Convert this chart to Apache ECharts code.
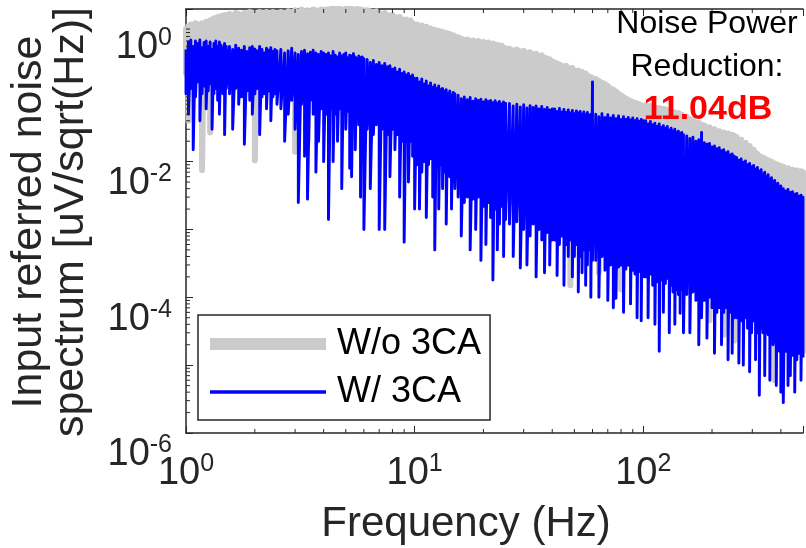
<!DOCTYPE html>
<html><head><meta charset="utf-8">
<script src="https://cdn.jsdelivr.net/npm/echarts@6/dist/echarts.min.js"></script>
<style>html,body{margin:0;padding:0;background:#fff}#c{width:806px;height:548px}</style>
</head><body><div id="c"></div>
<script>
// ---- data: per frequency bin, the top and bottom of the plotted trace ----
const freqHz = [
 1.000,1.025,1.050,1.075,1.100,1.125,1.150,1.175,1.200,1.225,1.250,1.275,1.300,1.325,1.350,1.375,1.400,1.425,1.450,1.475,1.500,
 1.55,1.60,1.65,1.70,1.75,1.80,1.85,1.90,1.95,2.00,2.05,2.10,2.15,2.20,2.25,2.30,2.35,2.40,2.45,2.50,
 2.6,2.7,2.8,2.9,3.0,3.1,3.2,3.3,3.4,3.5,3.6,3.7,3.8,3.9,4.0,
 4.1,4.2,4.3,4.4,4.5,4.6,4.7,4.8,4.9,5.0,5.1,5.2,5.3,5.4,5.5,5.6,5.7,5.8,5.9,6.0,
 6.2,6.4,6.6,6.8,7.0,7.2,7.4,7.6,7.8,8.0,8.2,8.4,8.6,8.8,9.0,9.2,9.4,9.6,9.8,10.0,
 10.25,10.5,10.75,11,11.25,11.5,11.75,12,12.25,12.5,12.75,13,13.25,13.5,13.75,14,14.25,14.5,14.75,15,
 15.5,16,16.5,17,17.5,18,18.5,19,19.5,20,20.5,21,21.5,22,22.5,23,23.5,24,24.5,25,
 26,27,28,29,30,31,32,33,34,35,36,37,38,39,40,
 41,42,43,44,45,46,47,48,49,50,51,52,53,54,55,56,57,58,59,60,
 62,64,66,68,70,72,74,76,78,80,82,84,86,88,90,92,94,96,98,100,
 102.5,105,107.5,110,112.5,115,117.5,120,122.5,125,127.5,130,132.5,135,137.5,140,142.5,145,147.5,150,
 155,160,165,170,175,180,185,190,195,200,205,210,215,220,225,230,235,240,245,250,
 256,262,268,274,280,286,292,298,304,310,316,322,328,334,340,346,352,358,364,370,376,382,388,394,400,
 410,420,430,440,450,460,470,480,490,500
];
// W/o 3CA (grey): top and bottom of the trace in each bin, uV/sqrt(Hz)
const without3caHi = [
 0.9,1.0,1.05,1.0,1.1,1.05,1.0,1.1,1.05,1.15,1.1,1.2,1.25,1.3,1.2,1.35,1.3,1.4,1.35,1.45,1.4,
 1.5,1.45,1.55,1.5,1.4,1.55,1.5,1.6,1.45,1.55,1.5,1.6,1.55,1.5,1.6,1.45,1.55,1.6,1.5,1.55,
 1.6,1.55,1.65,1.6,1.7,1.6,1.75,1.65,1.7,1.6,1.75,1.7,1.65,1.75,1.7,
 1.75,1.7,1.8,1.75,1.85,1.7,1.8,1.75,1.7,1.8,1.75,1.85,1.8,1.7,1.75,1.8,1.7,1.75,1.65,1.7,
 1.7,1.65,1.6,1.65,1.55,1.5,1.55,1.45,1.4,1.45,1.35,1.3,1.35,1.25,1.2,1.25,1.15,1.2,1.1,1.05,
 1.05,1.0,1.02,0.95,0.97,0.9,0.92,0.86,0.88,0.83,0.85,0.8,0.82,0.78,0.79,0.75,0.76,0.72,0.73,0.7,
 0.68,0.65,0.62,0.63,0.6,0.61,0.58,0.6,0.57,0.58,0.55,0.57,0.54,0.55,0.52,0.53,0.5,0.51,0.48,0.47,
 0.46,0.44,0.45,0.42,0.43,0.4,0.41,0.38,0.39,0.36,0.37,0.34,0.33,0.32,0.3,
 0.29,0.28,0.27,0.26,0.25,0.26,0.24,0.23,0.24,0.22,0.21,0.22,0.2,0.21,0.19,0.2,0.185,0.18,0.175,0.17,
 0.165,0.155,0.145,0.14,0.13,0.12,0.115,0.108,0.1,0.095,0.09,0.085,0.081,0.078,0.076,0.074,0.072,0.07,0.068,0.066,
 0.068,0.064,0.066,0.062,0.064,0.06,0.062,0.058,0.06,0.056,0.058,0.054,0.056,0.052,0.053,0.05,0.052,0.048,0.049,0.046,
 0.046,0.042,0.041,0.038,0.037,0.035,0.034,0.032,0.032,0.03,0.03,0.028,0.028,0.027,0.027,0.026,0.026,0.025,0.025,0.024,
 0.023,0.021,0.021,0.019,0.019,0.017,0.017,0.015,0.015,0.0135,0.013,0.0118,0.0118,0.011,0.0112,0.0105,0.0105,0.0098,0.01,0.0093,0.0094,0.0088,0.009,0.0084,0.0086,
 0.0084,0.008,0.008,0.0076,0.0076,0.0073,0.0074,0.0071,0.0072,0.007
];
const without3caLo = [
 0.2,0.04,0.25,0.15,0.2,0.3,0.2,0.0075,0.25,0.2,0.2,0.027,0.2,0.25,0.2,0.15,0.2,0.25,0.2,0.15,0.25,
 0.2,0.15,0.25,0.2,0.2,0.15,0.2,0.25,0.15,0.0105,0.2,0.15,0.2,0.25,0.15,0.2,0.2,0.15,0.2,0.25,
 0.15,0.2,0.15,0.2,0.014,0.15,0.2,0.15,0.02,0.2,0.15,0.2,0.1,0.15,0.2,
 0.15,0.1,0.2,0.15,0.1,0.15,0.2,0.1,0.15,0.1,0.15,0.2,0.1,0.15,0.1,0.15,0.1,0.15,0.1,0.12,
 0.08,0.1,0.06,0.1,0.08,0.06,0.1,0.08,0.06,0.08,0.05,0.07,0.06,0.05,0.07,0.05,0.04,0.06,0.05,0.04,
 0.03,0.04,0.025,0.03,0.02,0.03,0.025,0.02,0.025,0.02,0.015,0.02,0.015,0.02,0.015,0.012,0.015,0.01,0.012,0.01,
 0.008,0.01,0.007,0.008,0.006,0.007,0.005,0.006,0.005,0.005,0.004,0.005,0.004,0.004,0.0035,0.004,0.003,0.0035,0.003,0.003,
 0.0028,0.0025,0.0026,0.0022,0.0024,0.002,0.0022,0.0019,0.002,0.0018,0.0017,0.0018,0.0016,0.0015,0.0015,
 0.0014,0.0013,0.0014,0.0012,0.0013,0.0011,0.0012,0.00015,0.0011,0.001,0.0011,0.001,0.0009,0.001,0.0009,0.0008,0.0009,0.0008,0.0007,0.0008,
 0.0007,0.00023,0.0007,0.0006,0.0006,0.0005,0.0006,0.0005,0.0005,0.00013,0.0005,0.0004,0.00045,0.0004,0.0004,0.00035,0.0004,0.00035,0.0003,0.00035,
 0.0003,0.00035,0.0003,0.00028,0.0003,0.00025,0.00028,0.00025,0.00022,0.00025,0.00022,0.0002,0.00022,0.0002,0.00018,0.0002,0.00018,0.00016,0.00018,0.00016,
 0.00016,0.00015,0.00016,0.00014,0.00015,0.00013,0.00014,0.00012,0.000046,0.00012,0.00011,0.0001,0.00011,0.0001,0.000028,0.0001,0.00009,0.00009,0.000085,0.000023,
 0.00008,0.00008,0.00007,0.00007,0.000065,0.00006,0.00006,0.000055,0.00005,0.00005,0.000045,0.000045,0.00004,0.00004,0.000038,0.000036,0.000034,0.000032,0.00003,0.000028,0.000006,0.000027,0.000026,0.000025,0.000024,
 0.000023,0.000022,0.000021,0.00002,0.00002,0.000019,0.000018,0.000018,0.000017,0.000016
];
// W/ 3CA (blue)
const with3caHi = [
 0.45,0.58,0.62,0.5,0.6,0.55,0.62,0.48,0.57,0.6,0.5,0.58,0.45,0.55,0.6,0.5,0.58,0.52,0.47,0.55,0.5,
 0.5,0.45,0.52,0.47,0.44,0.5,0.42,0.48,0.5,0.46,0.43,0.5,0.45,0.4,0.47,0.44,0.48,0.42,0.45,0.43,
 0.45,0.4,0.43,0.47,0.4,0.38,0.42,0.44,0.39,0.41,0.44,0.4,0.38,0.42,0.4,
 0.38,0.4,0.36,0.42,0.37,0.35,0.4,0.36,0.38,0.4,0.34,0.37,0.36,0.39,0.35,0.33,0.36,0.34,0.35,0.33,
 0.32,0.29,0.31,0.27,0.29,0.26,0.28,0.25,0.26,0.23,0.24,0.21,0.23,0.2,0.21,0.19,0.2,0.18,0.19,0.17,
 0.17,0.15,0.165,0.14,0.155,0.13,0.145,0.125,0.135,0.12,0.13,0.115,0.12,0.11,0.115,0.1,0.11,0.095,0.105,0.1,
 0.095,0.085,0.09,0.082,0.088,0.078,0.085,0.08,0.083,0.076,0.082,0.077,0.08,0.074,0.079,0.073,0.077,0.071,0.076,0.072,
 0.072,0.066,0.07,0.064,0.069,0.062,0.067,0.063,0.066,0.06,0.065,0.059,0.063,0.058,0.06,
 0.06,0.055,0.061,0.054,0.059,0.053,0.058,0.052,0.057,0.051,0.056,0.052,0.055,0.05,0.054,0.049,0.053,0.048,0.05,0.15,
 0.05,0.046,0.051,0.045,0.049,0.044,0.048,0.043,0.047,0.042,0.046,0.042,0.045,0.041,0.044,0.04,0.043,0.039,0.042,0.04,
 0.04,0.036,0.039,0.035,0.037,0.033,0.036,0.032,0.034,0.031,0.033,0.029,0.031,0.028,0.03,0.027,0.028,0.026,0.027,0.025,
 0.024,0.022,0.023,0.02,0.021,0.027,0.019,0.018,0.0185,0.0165,0.017,0.0155,0.016,0.0145,0.015,0.0135,0.014,0.0125,0.013,0.012,
 0.0115,0.0105,0.011,0.0098,0.0102,0.009,0.0094,0.0084,0.0088,0.0078,0.0082,0.0072,0.0076,0.0066,0.007,0.006,0.0064,0.0055,0.0058,0.005,0.0053,0.0046,0.0048,0.0042,0.0044,
 0.004,0.0037,0.0039,0.0035,0.0036,0.0033,0.0034,0.0031,0.0032,0.003
];
const with3caLo = [
 0.1,0.05,0.12,0.015,0.09,0.15,0.04,0.1,0.13,0.06,0.11,0.14,0.03,0.1,0.12,0.08,0.05,0.13,0.1,0.025,0.12,
 0.1,0.03,0.12,0.07,0.09,0.018,0.11,0.08,0.05,0.1,0.12,0.025,0.09,0.1,0.06,0.11,0.04,0.09,0.1,0.07,
 0.06,0.02,0.05,0.08,0.03,0.0025,0.07,0.012,0.0028,0.08,0.05,0.007,0.02,0.06,0.01,
 0.05,0.0014,0.06,0.01,0.05,0.02,0.06,0.004,0.05,0.03,0.055,0.008,0.006,0.05,0.015,0.05,0.035,0.003,0.03,0.001,
 0.03,0.004,0.025,0.035,0.001,0.03,0.001,0.025,0.006,0.03,0.015,0.025,0.003,0.02,0.00065,0.02,0.005,0.02,0.012,0.002,
 0.009,0.002,0.007,0.01,0.0015,0.009,0.011,0.003,0.0005,0.008,0.002,0.009,0.004,0.007,0.0012,0.008,0.006,0.002,0.005,0.004,
 0.003,0.0008,0.0025,0.003,0.0005,0.0028,0.001,0.003,0.00035,0.0022,0.0006,0.0025,0.0015,0.00018,0.002,0.0005,0.0012,0.0022,0.0004,0.0014,
 0.0012,0.0004,0.0013,0.00027,0.001,0.0003,0.0008,0.0012,0.0002,0.001,0.0007,0.00023,0.0009,0.0003,0.0007,
 0.0007,0.00021,0.0006,0.0008,0.00015,0.0006,0.0004,0.0007,0.0002,0.0004,0.0006,0.00012,0.0004,0.00023,0.0005,0.00015,0.0003,0.0005,0.0001,0.00035,
 0.00035,0.0001,0.0004,0.00025,0.00009,0.0003,0.00007,0.000097,0.00028,0.0003,0.00006,0.00026,0.0003,0.00008,0.00025,0.00022,0.00005,0.00024,0.000045,0.0002,
 0.0002,0.00005,0.00022,0.00015,0.00004,0.00017,0.000016,0.00018,0.00006,0.00016,0.00019,0.00003,0.00015,0.00012,0.00004,0.00013,0.00011,0.000058,0.00013,0.00003,
 0.00011,0.00003,0.00012,0.00009,0.00002,0.00005,0.00009,0.000025,0.0001,0.00007,0.000015,0.00006,0.00007,0.00002,0.00006,0.00007,0.000012,0.00006,0.000015,0.00005,
 0.00005,0.0000107,0.000045,0.00001,0.00005,0.000035,0.000008,0.00003,0.000045,0.000012,0.00003,0.0000036,0.000035,0.00003,0.000007,0.00003,0.000028,0.000006,0.000025,0.00002,0.000022,0.000005,0.00002,0.000016,0.000004,
 0.0000028,0.000016,0.000005,0.000007,0.000014,0.000004,0.000012,0.000015,0.000006,0.000013
];
const seriesNames = ['W/o 3CA', 'W/ 3CA'];
const xLabelExponents = [0, 1, 2];
const yLabelExponents = [0, -2, -4, -6];
const minorMantissas = [2, 3, 4, 5, 6, 7, 8, 9];
const xDecades = [1, 10, 100];
const yDecades = [1e-6, 1e-5, 1e-4, 1e-3, 1e-2, 1e-1];
const annotationLines = ['Noise Power', 'Reduction:'];
const annotationValue = '11.04dB';
const xTitle = 'Frequency (Hz)';
const yTitle = ['Input referred noise', 'spectrum [uV/sqrt(Hz)]'];

const X_MIN = 1, X_MAX = 500, Y_MIN = 1e-6, Y_MAX = Math.pow(10, 0.25);
const FONT = '"Liberation Sans", Arial, Helvetica, sans-serif';
const AX = '#262626';

const xMinor = [];
xDecades.forEach(d => minorMantissas.forEach(m => { const v = m * d; if (v < X_MAX) xMinor.push(v); }));
const yMinor = [];
yDecades.forEach(d => minorMantissas.forEach(m => { const v = m * d; if (v < Y_MAX) yMinor.push(v); }));

// each bin drawn as a vertical stroke from its top to its bottom value
const binTrace = (hi, lo) => freqHz.flatMap((f, i) => [[f, hi[i]], [f, lo[i]]]);

function expLabel(value, allowed) {
  const e = Math.round(Math.log10(value));
  if (Math.abs(Math.log10(value) - e) > 1e-6) return '';
  if (allowed.indexOf(e) < 0) return '';
  return '{b|10}{s|' + e + '}';
}
const richLabel = {
  b: { fontSize: 38, lineHeight: 44, fontFamily: FONT, color: AX },
  s: { fontSize: 25, lineHeight: 18, verticalAlign: 'top', fontFamily: FONT, color: AX }
};

const chart = echarts.init(document.getElementById('c'), null, { renderer: 'canvas' });
chart.setOption({
  animation: false,
  backgroundColor: '#fff',
  grid: { left: 186, top: 9, right: -9, bottom: 115, containLabel: false },
  xAxis: [{
    type: 'log', logBase: 10, min: X_MIN, max: X_MAX, position: 'bottom',
    axisLine: { show: true, lineStyle: { color: AX, width: 1.5 } },
    axisTick: { show: true, inside: true, length: 7, lineStyle: { color: AX, width: 1 } },
    splitLine: { show: false }, minorTick: { show: false }, minorSplitLine: { show: false },
    axisLabel: { show: true, margin: 19, formatter: v => expLabel(v, xLabelExponents), rich: richLabel, interval: 0 }
  }, {
    type: 'log', logBase: 10, min: X_MIN, max: X_MAX, position: 'top',
    axisLine: { show: true, lineStyle: { color: AX, width: 1.5 } },
    axisTick: { show: true, inside: true, length: 7, lineStyle: { color: AX, width: 1 } },
    splitLine: { show: false }, axisLabel: { show: false }
  }],
  yAxis: [{
    type: 'log', logBase: 10, min: Y_MIN, max: Y_MAX, position: 'left',
    axisLine: { show: true, lineStyle: { color: AX, width: 1.5 } },
    axisTick: { show: true, inside: true, length: 7, lineStyle: { color: AX, width: 1 } },
    splitLine: { show: false }, minorTick: { show: false }, minorSplitLine: { show: false },
    axisLabel: { show: true, margin: 14, formatter: v => expLabel(v, yLabelExponents), rich: richLabel, interval: 0, verticalAlign: 'top' }
  }],
  legend: {
    orient: 'vertical', left: 198, top: 315, padding: [11, 9, 10, 12], itemGap: 12,
    itemWidth: 116, itemHeight: 12, selectedMode: false,
    backgroundColor: '#fff', borderColor: AX, borderWidth: 1.5, borderRadius: 0,
    itemStyle: { borderWidth: 0 },
    textStyle: { fontSize: 36, color: '#000', fontFamily: FONT, padding: [0, 0, 0, 6] },
    data: [
      { name: seriesNames[0], icon: 'rect' },
      { name: seriesNames[1], icon: 'path://M0,0H116V3.5H0Z' }
    ]
  },
  graphic: [
    { type: 'text', z: 100, x: 707, y: 24, style: { text: annotationLines[0], font: '32px ' + FONT, fill: '#000', textAlign: 'center', textVerticalAlign: 'middle', verticalAlign: 'middle' } },
    { type: 'text', z: 100, x: 707, y: 67, style: { text: annotationLines[1], font: '32px ' + FONT, fill: '#000', textAlign: 'center', textVerticalAlign: 'middle', verticalAlign: 'middle' } },
    { type: 'text', z: 100, x: 708, y: 110, style: { text: annotationValue, font: 'bold 34px ' + FONT, fill: '#ff0000', textAlign: 'center', textVerticalAlign: 'middle', verticalAlign: 'middle' } },
    { type: 'text', z: 100, x: 466, y: 524, style: { text: xTitle, font: '42px ' + FONT, fill: AX, textAlign: 'center', textVerticalAlign: 'middle', verticalAlign: 'middle' } },
    { type: 'text', z: 100, x: 50, y: 222, rotation: Math.PI / 2, style: { text: yTitle.join('\n'), font: '43px ' + FONT, lineHeight: 42, fill: AX, textAlign: 'center', textVerticalAlign: 'middle', verticalAlign: 'middle' } }
  ],
  series: [
    {
      name: seriesNames[0], type: 'line', symbol: 'none', showSymbol: false, sampling: null,
      color: '#cbcbcb', clip: true, z: 2,
      lineStyle: { color: '#cbcbcb', width: 6, join: 'round', cap: 'round' },
      data: binTrace(without3caHi, without3caLo)
    },
    {
      name: seriesNames[1], type: 'line', symbol: 'none', showSymbol: false, sampling: null,
      color: '#0000ff', clip: true, z: 3,
      lineStyle: { color: '#0000ff', width: 2.9, join: 'round' },
      data: binTrace(with3caHi, with3caLo)
    },
    {
      type: 'custom', silent: true, clip: false, z: 5, encode: { x: 0, y: 1 },
      data: xMinor.map(v => [v, Y_MIN]),
      renderItem: (params, api) => {
        const v = api.value(0);
        const b = api.coord([v, Y_MIN]);
        const t = api.coord([v, Y_MAX]);
        return { type: 'group', children: [
          { type: 'line', shape: { x1: b[0], y1: b[1], x2: b[0], y2: b[1] - 4 }, style: { stroke: AX, lineWidth: 1 } },
          { type: 'line', shape: { x1: t[0], y1: t[1], x2: t[0], y2: t[1] + 4 }, style: { stroke: AX, lineWidth: 1 } }
        ] };
      }
    },
    {
      type: 'custom', silent: true, clip: false, z: 5, encode: { x: 0, y: 1 },
      data: yMinor.map(v => [X_MIN, v]),
      renderItem: (params, api) => {
        const p = api.coord([X_MIN, api.value(1)]);
        return { type: 'line', shape: { x1: p[0], y1: p[1], x2: p[0] + 4, y2: p[1] }, style: { stroke: AX, lineWidth: 1 } };
      }
    }
  ]
});
</script>
</body></html>
